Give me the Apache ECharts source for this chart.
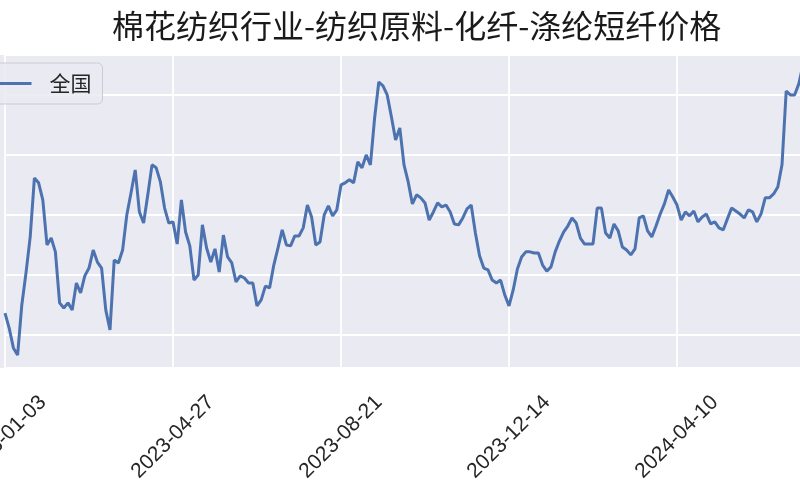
<!DOCTYPE html>
<html>
<head>
<meta charset="utf-8">
<script src="https://cdn.jsdelivr.net/npm/echarts@6/dist/echarts.min.js"></script>
<style>
html,body{margin:0;padding:0;background:#fff;}
#c{width:800px;height:500px;}
</style>
</head>
<body>
<div id="c"></div>
<script>
// Tick labels on the x axis (one every pointsPerTick points)
const tickLabels = ['2023-01-03', '2023-04-27', '2023-08-21', '2023-12-14', '2024-04-10', '2024-08-05'];
const pointsPerTick = 40;
const seriesName = '全国';
const titleText = '棉花纺织行业-纺织原料-化纤-涤纶短纤价格';

// Price series
const prices = [
  7073, 7023, 6957, 6933, 7100, 7207, 7327, 7523, 7507, 7450,
  7300, 7323, 7277, 7107, 7090, 7107, 7083, 7173, 7140, 7197,
  7223, 7283, 7243, 7223, 7083, 7017, 7250, 7240, 7283, 7400,
  7473, 7550, 7410, 7373, 7467, 7567, 7557, 7510, 7423, 7373,
  7377, 7303, 7450, 7343, 7297, 7183, 7200, 7367, 7290, 7243,
  7287, 7210, 7333, 7260, 7240, 7177, 7197, 7190, 7173, 7173,
  7097, 7117, 7163, 7157, 7233, 7290, 7350, 7300, 7297, 7330,
  7330, 7357, 7433, 7393, 7300, 7310, 7400, 7430, 7397, 7417,
  7500, 7507, 7517, 7507, 7577, 7557, 7600, 7567, 7723, 7843,
  7830, 7800, 7727, 7650, 7690, 7567, 7510, 7437, 7467, 7457,
  7440, 7383, 7410, 7440, 7427, 7433, 7410, 7370, 7367, 7390,
  7420, 7433, 7340, 7263, 7223, 7217, 7183, 7173, 7183, 7133,
  7097, 7150, 7220, 7260, 7277, 7277, 7273, 7273, 7233, 7213,
  7227, 7277, 7313, 7343, 7363, 7390, 7373, 7323, 7303, 7303,
  7303, 7423, 7423, 7340, 7323, 7370, 7347, 7293, 7283, 7267,
  7287, 7390, 7397, 7347, 7327, 7363, 7403, 7437, 7483, 7460,
  7433, 7383, 7410, 7397, 7413, 7377, 7393, 7403, 7370, 7377,
  7357, 7350, 7387, 7423, 7413, 7403, 7390, 7417, 7410, 7377,
  7403, 7457, 7457, 7470, 7493, 7567, 7813, 7800, 7800, 7837,
  7900
];

const yMin = 6890;
const yMax = 7933;

const categories = Array.from({length: (tickLabels.length - 1) * pointsPerTick + 1}, (_, i) => String(i));

const chart = echarts.init(document.getElementById('c'), null, {renderer: 'canvas'});
chart.setOption({
  animation: false,
  backgroundColor: '#ffffff',
  title: {
    text: titleText,
    left: 112,
    top: 2,
    padding: [8, 0, 5, 0],
    textStyle: {
      fontFamily: 'Noto Sans CJK SC',
      fontSize: 32,
      fontWeight: 'normal',
      color: '#1a1a1a'
    }
  },
  graphic: [{
    type: 'rect',
    left: 0,
    top: 55,
    z: -10,
    silent: true,
    shape: {width: 800, height: 313},
    style: {fill: '#EAEAF2'}
  }],
  legend: {
    left: -21,
    top: 63,
    orient: 'vertical',
    padding: [10, 11, 10, 9],
    backgroundColor: 'rgba(234,234,242,0.85)',
    borderColor: '#cccccc',
    borderWidth: 1,
    borderRadius: 5,
    itemWidth: 42,
    itemHeight: 20,
    itemStyle: {opacity: 0},
    lineStyle: {width: 3, color: '#4C72B0'},
    textStyle: {
      fontFamily: 'Noto Sans CJK SC',
      fontSize: 21,
      color: '#262626',
      padding: [0, 0, 0, 13]
    },
    data: [seriesName]
  },
  grid: {
    left: 5,
    right: -45,
    top: 55,
    bottom: 132,
    containLabel: false,
    outerBoundsMode: 'none'
  },
  xAxis: {
    type: 'category',
    data: categories,
    boundaryGap: false,
    axisLine: {show: false},
    axisTick: {show: false},
    splitLine: {
      show: true,
      interval: pointsPerTick - 1,
      lineStyle: {color: '#ffffff', width: 1.8}
    },
    axisLabel: {
      interval: pointsPerTick - 1,
      rotate: 45,
      align: 'center',
      verticalAlign: 'middle',
      margin: 69,
      fontFamily: 'Liberation Sans',
      fontSize: 21,
      color: '#262626',
      formatter: (v, i) => tickLabels[Math.round(Number(v) / pointsPerTick)]
    }
  },
  yAxis: {
    type: 'value',
    min: yMin,
    max: yMax,
    splitNumber: 5,
    axisLine: {show: false},
    axisTick: {show: false},
    axisLabel: {show: false},
    splitLine: {show: true, lineStyle: {color: '#ffffff', width: 1.8}}
  },
  series: [{
    name: seriesName,
    type: 'line',
    data: prices,
    symbol: 'none',
    showSymbol: false,
    lineStyle: {color: '#4C72B0', width: 3},
    itemStyle: {color: '#4C72B0'}
  }]
});
</script>
</body>
</html>
